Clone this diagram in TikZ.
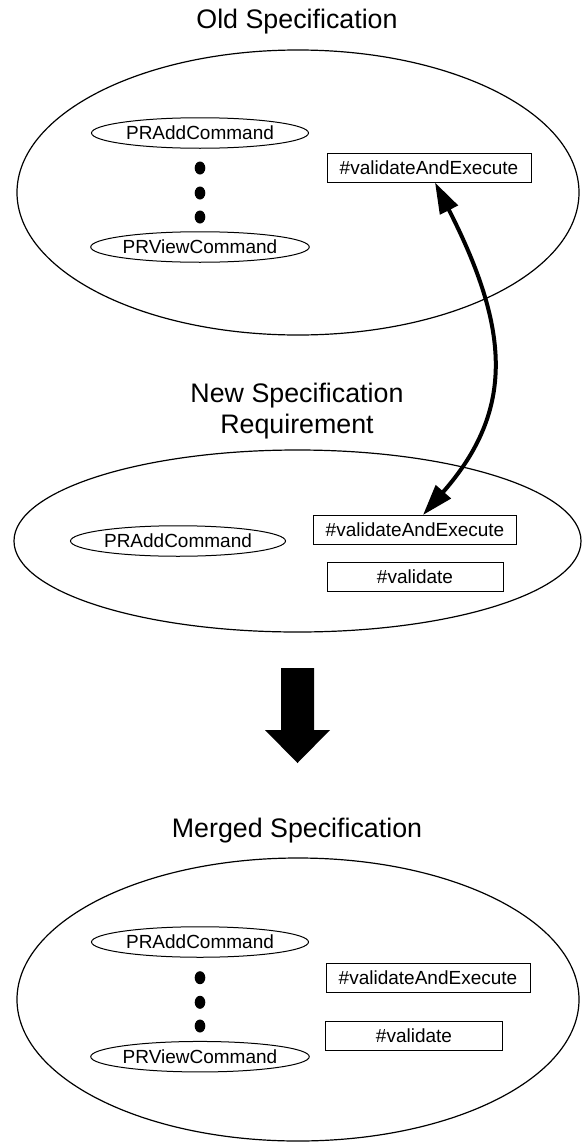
\documentclass[tikz,border=0pt]{standalone}
\usepackage{fontspec}
\setmainfont{Liberation Sans}
\usetikzlibrary{shapes.geometric,arrows.meta}
\tikzset{
  region/.style={draw, ellipse, line width=1.2pt, inner sep=0pt},
  title/.style={font=\fontsize{26.8}{31}\selectfont, anchor=base, inner sep=0pt},
  cmdoval/.style={draw, ellipse, line width=1pt, inner sep=0pt, minimum width=217pt, minimum height=30.5pt,
    font=\fontsize{19}{22}\selectfont, text height=13.6pt, text depth=0pt},
  methbox/.style={draw, rectangle, line width=1pt, inner sep=0pt, minimum height=29pt,
    font=\fontsize{19}{22}\selectfont, text height=13.6pt, text depth=0pt},
  vdot/.style={fill=black},
  link/.style={line width=4pt, {Triangle[length=31pt,width=19.5pt]}-{Triangle[length=31pt,width=19.5pt]}}
}
\begin{document}
\begin{tikzpicture}[x=1pt,y=-1pt]
\path[use as bounding box] (0,0) rectangle (584,1143);

% Old specification
\node[title] (oldtitle) at (297,28.3) {Old Specification};
\node[region, minimum width=562pt, minimum height=285pt] (oldspec) at (298,192.5) {};
\node[cmdoval] (oldadd) at (200,133) {PRAddCommand};
\fill[vdot] (200,168) ellipse [x radius=5.3, y radius=6.5];
\fill[vdot] (200,193) ellipse [x radius=5.3, y radius=6.5];
\fill[vdot] (200,217) ellipse [x radius=5.3, y radius=6.5];
\node[cmdoval] (oldview) at (200,247) {PRViewCommand};
\node[methbox, minimum width=204pt] (oldvae) at (429,167.5) {\#validateAndExecute};

% New specification requirement
\node[title] (newtitleA) at (297,402) {New Specification};
\node[title] (newtitleB) at (297,433) {Requirement};
\node[region, minimum width=567pt, minimum height=182pt] (newspec) at (297.5,541) {};
\node[cmdoval, minimum width=215pt] (newadd) at (178,541) {PRAddCommand};
\node[methbox, minimum width=203pt] (newvae) at (415,530) {\#validateAndExecute};
\node[methbox, minimum width=176pt] (newval) at (415,577) {\#validate};

% correspondence arrow
\draw[link] ([xshift=6pt]oldvae.south) .. controls (510,330) and (515,410) .. ([xshift=8pt]newvae.north);

% block arrow
\fill (281,668) -- (314,668) -- (314,730) -- (330,730) -- (297.5,763) -- (265,730) -- (281,730) -- cycle;

% Merged specification
\node[title] (mergedtitle) at (297,837) {Merged Specification};
\node[region, minimum width=562pt, minimum height=283pt] (merged) at (298,999.5) {};
\node[cmdoval] (madd) at (200,942) {PRAddCommand};
\fill[vdot] (200,977.7) ellipse [x radius=5.3, y radius=6.5];
\fill[vdot] (200,1002.3) ellipse [x radius=5.3, y radius=6.5];
\fill[vdot] (200,1026) ellipse [x radius=5.3, y radius=6.5];
\node[cmdoval] (mview) at (200,1056.7) {PRViewCommand};
\node[methbox, minimum width=204pt] (mvae) at (428,978) {\#validateAndExecute};
\node[methbox, minimum width=177pt] (mval) at (414,1035.5) {\#validate};
\end{tikzpicture}
\end{document}
